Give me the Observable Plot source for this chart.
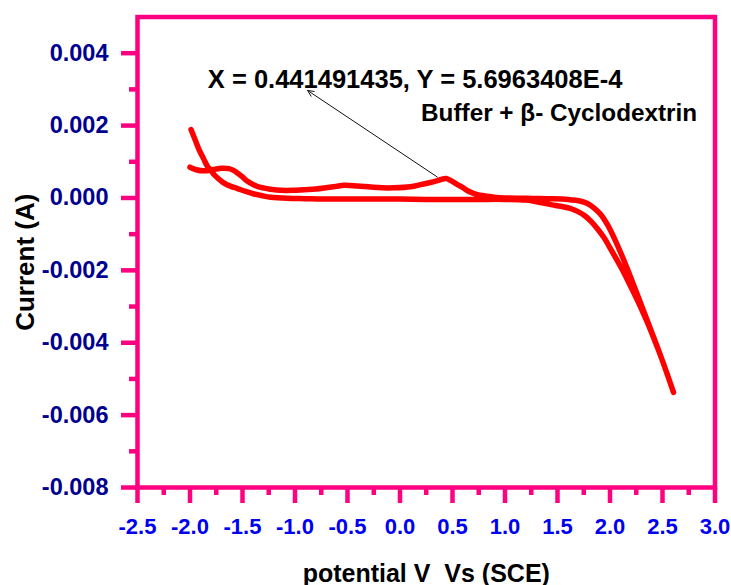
<!DOCTYPE html>
<html>
<head>
<meta charset="utf-8">
<script src="https://cdn.jsdelivr.net/npm/d3@7"></script>
<script src="https://cdn.jsdelivr.net/npm/@observablehq/plot@0.6"></script>
<style>
  html, body { margin: 0; padding: 0; background: #ffffff; }
  svg text { white-space: pre; }
</style>
</head>
<body>
<div id="chart"></div>
<script>
// ---- Data ----
// forward sweep (starts at -2.0 V, ends at 2.6 V)
const forwardV = [-1.99, -1.95, -1.913, -1.87, -1.833, -1.80, -1.77, -1.72, -1.675, -1.61, -1.548, -1.47, -1.39, -1.31, -1.23, -1.07, -0.9, -0.75, -0.5, -0.25, 0.0, 0.25, 0.5, 0.75, 1.0, 1.2, 1.34, 1.45, 1.53, 1.62, 1.69, 1.76, 1.817, 1.88, 1.944, 2.0, 2.071, 2.13, 2.182, 2.25, 2.3, 2.35, 2.4, 2.45, 2.5, 2.55, 2.605];
const forwardI = [0.00189, 0.00160, 0.00133, 0.00108, 0.00087, 0.00077, 0.00064, 0.00051, 0.00041, 0.00032, 0.00026, 0.00018, 0.00011, 0.00006, 0.00002, -0.00001, -0.00002, -0.00003, -0.00003, -0.00003, -0.00003, -0.00004, -0.00004, -0.00004, -0.00004, -0.00006, -0.00013, -0.00019, -0.00023, -0.00029, -0.00037, -0.00049, -0.00064, -0.00085, -0.0011, -0.00138, -0.00174, -0.00205, -0.00236, -0.00276, -0.00307, -0.0034, -0.00375, -0.00412, -0.0045, -0.00491, -0.00537];
// reverse sweep (from 2.6 V back to -2.0 V)
const reverseV = [2.605, 2.55, 2.5, 2.45, 2.4, 2.35, 2.3, 2.262, 2.214, 2.16, 2.103, 2.04, 1.976, 1.91, 1.849, 1.79, 1.724, 1.6, 1.4, 1.2, 1.0, 0.896, 0.82, 0.738, 0.69, 0.643, 0.595, 0.548, 0.49, 0.44, 0.39, 0.357, 0.28, 0.198, 0.1, -0.056, -0.17, -0.278, -0.405, -0.532, -0.61, -0.69, -0.8, -0.913, -1.02, -1.135, -1.23, -1.326, -1.39, -1.452, -1.5, -1.548, -1.59, -1.628, -1.7, -1.773, -1.866, -1.94, -2.0];
const reverseI = [-0.00537, -0.00491, -0.0045, -0.00411, -0.00373, -0.00335, -0.00297, -0.00268, -0.00232, -0.00192, -0.00152, -0.00111, -0.00074, -0.00045, -0.00028, -0.00016, -0.00009, -0.00004, -0.00002, -0.00001, 0.0, 0.00002, 0.00005, 0.00009, 0.00014, 0.0002, 0.00029, 0.00037, 0.00047, 0.00054, 0.00051, 0.00048, 0.00042, 0.00037, 0.00031, 0.00028, 0.00028, 0.0003, 0.00033, 0.00035, 0.00032, 0.00029, 0.00025, 0.00023, 0.00021, 0.00021, 0.00024, 0.00029, 0.00036, 0.00046, 0.00058, 0.00069, 0.00077, 0.00081, 0.00082, 0.00079, 0.00075, 0.00078, 0.00085];

// tick values
const xMajor = [-2.5, -2.0, -1.5, -1.0, -0.5, 0.0, 0.5, 1.0, 1.5, 2.0, 2.5, 3.0];
const xMinor = [-2.25, -1.75, -1.25, -0.75, -0.25, 0.25, 0.75, 1.25, 1.75, 2.25, 2.75];
const yMajor = [-0.008, -0.006, -0.004, -0.002, 0.000, 0.002, 0.004];
const yMinor = [-0.007, -0.005, -0.003, -0.001, 0.001, 0.003];

// texts
const xTitle = ["potential V  Vs (SCE)"];
const yTitle = ["Current (A)"];
const peakLabel = [{x: -1.83, y: 0.00303, text: "X = 0.441491435, Y = 5.6963408E-4"}];
const sampleLabel = [{x: 2.83, y: 0.00212, text: "Buffer + \u03B2- Cyclodextrin"}];
const arrowData = [{x1: 0.355, y1: 0.00058, x2: -0.88, y2: 0.00297}];

// build table
const curve = [];
forwardV.forEach((v, i) => curve.push({v, i: forwardI[i]}));
reverseV.forEach((v, i) => curve.push({v, i: reverseI[i]}));

const PINK = "#ff0080";
const FONT = "'Liberation Sans', Arial, Helvetica, sans-serif";

const chart = Plot.plot({
  width: 731,
  height: 585,
  marginTop: 16.5,
  marginRight: 16.5,
  marginBottom: 98,
  marginLeft: 137,
  style: {fontFamily: FONT, background: "#ffffff", overflow: "visible"},
  x: {domain: [-2.5, 3.0]},
  y: {domain: [-0.008, 0.005]},
  marks: [
    Plot.line(curve, {x: "v", y: "i", stroke: "#ff0000", strokeWidth: 5.5, curve: "catmull-rom", strokeLinejoin: "round"}),
    Plot.arrow(arrowData, {x1: "x1", y1: "y1", x2: "x2", y2: "y2", stroke: "#111", strokeWidth: 1, headLength: 10, headAngle: 50}),
    Plot.text(peakLabel, {x: "x", y: "y", text: "text", textAnchor: "start", lineAnchor: "bottom", fontSize: 25.5, fontWeight: "bold", fill: "#000"}),
    Plot.text(sampleLabel, {x: "x", y: "y", text: "text", textAnchor: "end", lineAnchor: "bottom", fontSize: 24.3, fontWeight: "bold", fill: "#000"}),
    Plot.axisX({ticks: xMajor, tickSize: 16, tickPadding: 15, stroke: PINK, strokeWidth: 4.5, fill: "#0000f0", fontSize: 22, fontWeight: "bold", tickFormat: d => d.toFixed(1), label: null}),
    Plot.axisX({ticks: xMinor, tickSize: 8, stroke: PINK, strokeWidth: 4.5, text: null, label: null}),
    Plot.axisY({ticks: yMajor, tickSize: 16, tickPadding: 13, stroke: PINK, strokeWidth: 4.5, fill: "#000090", fontSize: 23.5, fontWeight: "bold", tickFormat: d => d.toFixed(3), label: null}),
    Plot.axisY({ticks: yMinor, tickSize: 8, stroke: PINK, strokeWidth: 4.5, text: null, label: null}),
    Plot.frame({stroke: PINK, strokeWidth: 4.5}),
    Plot.text(xTitle, {text: d => d, frameAnchor: "bottom", textAnchor: "middle", dy: 94, lineAnchor: "bottom", fontSize: 25, fontWeight: "bold", fill: "#000"}),
    Plot.text(yTitle, {text: d => d, frameAnchor: "left", textAnchor: "middle", dx: -104, dy: 10, rotate: -90, lineAnchor: "bottom", fontSize: 26, fontWeight: "bold", fill: "#000"})
  ]
});

document.getElementById("chart").appendChild(chart);
</script>
</body>
</html>
